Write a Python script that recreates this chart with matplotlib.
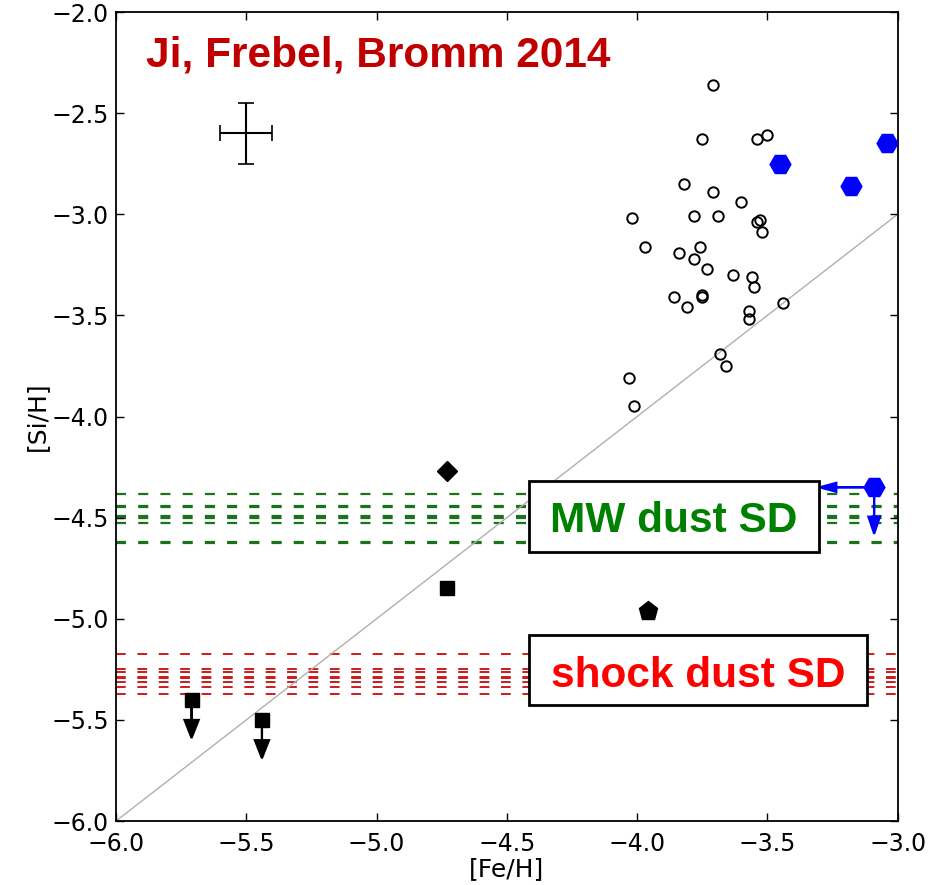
import numpy as np
import matplotlib
matplotlib.use("Agg")
import matplotlib.pyplot as plt
from matplotlib.patches import Rectangle

# halo stars (open circles)
fe_halo = [-3.71, -3.75, -3.54, -3.50, -3.82, -3.71, -3.60, -4.02, -3.78, -3.69,
           -3.54, -3.53, -3.52, -3.97, -3.76, -3.84, -3.78, -3.73, -3.63, -3.56,
           -3.55, -3.86, -3.75, -3.75, -3.81, -3.44, -3.57, -3.57, -3.68, -3.66,
           -4.03, -4.01]
si_halo = [-2.36, -2.63, -2.63, -2.61, -2.85, -2.89, -2.94, -3.02, -3.01, -3.01,
           -3.04, -3.03, -3.09, -3.16, -3.16, -3.19, -3.22, -3.27, -3.30, -3.31,
           -3.36, -3.41, -3.40, -3.41, -3.46, -3.44, -3.48, -3.52, -3.69, -3.75,
           -3.81, -3.95]

# blue hexagons
fe_blue = [-3.45, -3.18, -3.04]
si_blue = [-2.75, -2.86, -2.65]
fe_blue_lim, si_blue_lim = -3.09, -4.35

# individual stars
fe_diamond, si_diamond = -4.73, -4.27
fe_square, si_square = -4.73, -4.85
fe_pent, si_pent = -3.96, -4.96
fe_sq_lim = [-5.71, -5.44]
si_sq_lim = [-5.40, -5.50]

# typical uncertainty
err_x, err_y = -5.50, -2.60
err_fe, err_si = 0.10, 0.15

# critical [Si/H] for the two dust size distributions
mw_dust = [-4.385, -4.44, -4.445, -4.49, -4.50, -4.525, -4.62, -4.625]
shock_dust = [-5.175, -5.25, -5.265, -5.29, -5.295, -5.315, -5.335, -5.37]

fig = plt.figure(figsize=(9.32, 8.85), dpi=100)
ax = fig.add_axes([0.1245, 0.0723, 0.8386, 0.9141])

for s in mw_dust:
    ax.axhline(s, color='#1a721a', lw=1.6, linestyle=(0, (4.5, 5.5)), zorder=1)
for s in shock_dust:
    ax.axhline(s, color='#cc1a1a', lw=1.4, linestyle=(0, (5, 6)), zorder=1)

# [Si/H] = [Fe/H]
ax.plot([-6, -3], [-6, -3], color='#b0b0b0', lw=1, zorder=1)

ax.plot(fe_halo, si_halo, 'o', mfc='none', mec='k', mew=1.4, ms=7.5, zorder=3)
ax.plot(fe_blue, si_blue, 'H', color='#0000ff', ms=15, zorder=3)
ax.plot(fe_blue_lim, si_blue_lim, 'H', color='#0000ff', ms=15, zorder=3)
ax.arrow(fe_blue_lim, si_blue_lim, -0.21, 0, color='#0000ff', lw=1.5,
         head_width=0.045, head_length=0.065, length_includes_head=True, zorder=3)
ax.arrow(fe_blue_lim, si_blue_lim, 0, -0.23, color='#0000ff', lw=1.5,
         head_width=0.045, head_length=0.085, length_includes_head=True, zorder=3)

ax.plot(fe_diamond, si_diamond, 'D', color='k', ms=10.5, zorder=3)
ax.plot(fe_square, si_square, 's', color='k', ms=10, zorder=3)
ax.plot(fe_pent, si_pent, 'p', color='k', ms=14, zorder=3)
ax.plot(fe_sq_lim, si_sq_lim, 's', color='k', ms=10, zorder=3)
for x, y in zip(fe_sq_lim, si_sq_lim):
    ax.arrow(x, y, 0, -0.19, color='k', lw=1.5, head_width=0.055,
             head_length=0.09, length_includes_head=True, zorder=3)

ax.errorbar(err_x, err_y, xerr=err_fe, yerr=err_si, fmt='none', ecolor='k',
            elinewidth=1.5, capsize=6, capthick=1.2)

ax.set_xlim(-6, -3)
ax.set_ylim(-6, -2)
ax.set_xticks(np.arange(-6, -2.9, 0.5))
ax.set_yticks(np.arange(-6, -1.9, 0.5))
ax.tick_params(direction='in', top=True, right=True, length=6, width=1,
               labelsize=17, pad=5)
ax.tick_params(axis='x', pad=8)
for sp in ax.spines.values():
    sp.set_linewidth(1.3)
ax.set_xlabel('[Fe/H]', fontsize=18, labelpad=1)
ax.set_ylabel('[Si/H]', fontsize=18, labelpad=2)

bold = dict(family='Liberation Sans', weight='bold', fontsize=30.5)
ax.text(0.0384, 0.9324, 'Ji, Frebel, Bromm 2014', color='#c00000',
        transform=ax.transAxes, ha='left', va='baseline', **bold)

ax.add_patch(Rectangle((0.5285, 0.3325), 0.3711, 0.0878, transform=ax.transAxes,
                       facecolor='white', edgecolor='k', lw=2, zorder=4))
ax.text(0.714, 0.3576, 'MW dust SD', color='#008000', transform=ax.transAxes,
        ha='center', va='baseline', zorder=5, **bold)
ax.add_patch(Rectangle((0.5285, 0.1434), 0.4325, 0.0865, transform=ax.transAxes,
                       facecolor='white', edgecolor='k', lw=2, zorder=4))
ax.text(0.7445, 0.166, 'shock dust SD', color='#ff0000', transform=ax.transAxes,
        ha='center', va='baseline', zorder=5, **bold)

fig.savefig('out.png', dpi=100)
